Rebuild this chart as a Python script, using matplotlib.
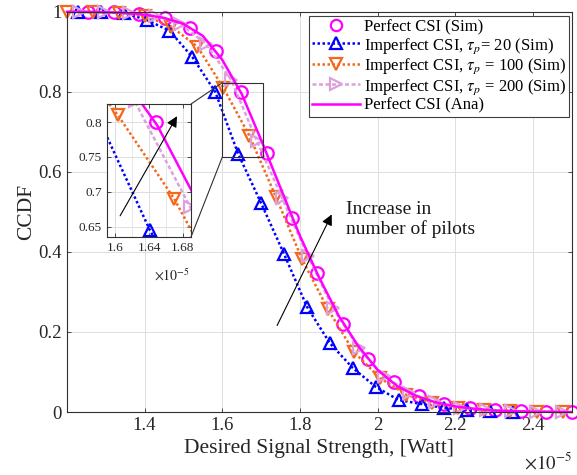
import matplotlib
matplotlib.use("Agg")
import numpy as np
import matplotlib.pyplot as plt
from matplotlib.patches import Rectangle, ConnectionPatch

plt.rcParams['font.family'] = ['Liberation Serif', 'DejaVu Serif']
plt.rcParams['mathtext.fontset'] = 'stix'

# desired signal strength in units of 1e-5 W
x_perfect_sim = [1.255, 1.321, 1.386, 1.452, 1.517, 1.583, 1.648, 1.714, 1.779, 1.845,
                 1.910, 1.976, 2.041, 2.107, 2.172, 2.238, 2.303, 2.369, 2.434, 2.500]
y_perfect_sim = [1.0, 1.0, 0.995, 0.985, 0.96, 0.903, 0.80, 0.647, 0.485, 0.347,
                 0.22, 0.132, 0.075, 0.04, 0.02, 0.01, 0.005, 0.002, 0.001, 0.0]

x_tau20 = [1.228, 1.287, 1.346, 1.405, 1.464, 1.523, 1.582, 1.641, 1.700, 1.759,
           1.818, 1.877, 1.936, 1.995, 2.054, 2.113, 2.172, 2.231, 2.290, 2.349]
y_tau20 = [1.0, 1.0, 0.998, 0.98, 0.953, 0.887, 0.80, 0.645, 0.522, 0.395,
           0.263, 0.172, 0.11, 0.063, 0.03, 0.02, 0.01, 0.006, 0.003, 0.001]

x_tau100 = [1.200, 1.267, 1.334, 1.402, 1.469, 1.536, 1.603, 1.670, 1.738, 1.805,
            1.872, 1.939, 2.006, 2.074, 2.141, 2.208, 2.275, 2.342, 2.410, 2.477]
y_tau100 = [1.0, 1.0, 0.998, 0.99, 0.963, 0.913, 0.81, 0.69, 0.538, 0.383,
            0.257, 0.15, 0.085, 0.043, 0.022, 0.01, 0.004, 0.002, 0.001, 0.0]

x_tau200 = [1.230, 1.296, 1.361, 1.427, 1.492, 1.558, 1.623, 1.689, 1.754, 1.820,
            1.885, 1.951, 2.016, 2.082, 2.147, 2.213, 2.278, 2.344, 2.409, 2.475]
y_tau200 = [1.0, 0.999, 0.997, 0.99, 0.97, 0.92, 0.83, 0.678, 0.535, 0.39,
            0.26, 0.16, 0.09, 0.048, 0.024, 0.011, 0.005, 0.002, 0.001, 0.0]

x_perfect_ana = [1.20, 1.25, 1.30, 1.35, 1.40, 1.45, 1.50, 1.55, 1.60, 1.65, 1.70, 1.75, 1.80,
                 1.85, 1.90, 1.95, 2.00, 2.05, 2.10, 2.15, 2.20, 2.25, 2.30, 2.35, 2.40, 2.45, 2.50]
y_perfect_ana = [1.0, 1.0, 0.999, 0.997, 0.993, 0.985, 0.97, 0.94, 0.88, 0.795, 0.68, 0.56, 0.44,
                 0.335, 0.24, 0.165, 0.105, 0.065, 0.04, 0.024, 0.014, 0.008, 0.004, 0.002, 0.001,
                 0.0005, 0.0]

labels = ['Perfect CSI (Sim)',
          r'Imperfect CSI, $\tau_p$= 20 (Sim)',
          r'Imperfect CSI, $\tau_p$ = 100 (Sim)',
          r'Imperfect CSI, $\tau_p$ = 200 (Sim)',
          'Perfect CSI (Ana)']

magenta = '#ff00ff'
blue = '#0000ff'
orange = '#f5681c'
plum = '#dca0dc'

zoom_box = (1.60, 1.705, 0.637, 0.823)
inset_xlim = (1.59, 1.69)
inset_ylim = (0.635, 0.826)

fig = plt.figure(figsize=(5.77, 4.75), dpi=100)
ax = fig.add_axes([0.116, 0.1326, 0.875, 0.8424])


def draw_series(a, clip=True):
    a.plot(x_perfect_sim, y_perfect_sim, linestyle='none', marker='o', ms=9, mfc='none',
           mec=magenta, mew=1.6, label=labels[0], clip_on=clip)
    a.plot(x_tau20, y_tau20, linestyle=(0, (1, 1)), lw=1.8, color=blue, marker='^', ms=9,
           mfc='none', mew=1.6, label=labels[1], clip_on=clip)
    a.plot(x_tau100, y_tau100, linestyle=(0, (1, 1)), lw=1.8, color=orange, marker='v', ms=9,
           mfc='none', mew=1.6, label=labels[2], clip_on=clip)
    a.plot(x_tau200, y_tau200, linestyle=(0, (1.6, 1)), lw=1.8, color=plum, marker='>', ms=9,
           mfc='none', mew=1.6, label=labels[3], clip_on=clip)
    a.plot(x_perfect_ana, y_perfect_ana, '-', lw=1.8, color=magenta, label=labels[4], clip_on=clip)


def style_axes(a, size):
    for s in a.spines.values():
        s.set_color('#303030')
        s.set_linewidth(0.8)
    a.tick_params(direction='in', length=3, width=0.6, labelsize=size, colors='#303030',
                  labelcolor='#262626', top=True, right=True)
    a.grid(True, color='#dedede', lw=0.7)
    a.set_axisbelow(True)


draw_series(ax, clip=False)
ax.set_xlim(1.2, 2.5)
ax.set_ylim(0, 1)
ax.set_xticks([1.4, 1.6, 1.8, 2.0, 2.2, 2.4])
ax.set_xticklabels(['1.4', '1.6', '1.8', '2', '2.2', '2.4'])
ax.set_yticks([0, 0.2, 0.4, 0.6, 0.8, 1])
ax.set_yticklabels(['0', '0.2', '0.4', '0.6', '0.8', '1'])
style_axes(ax, 13.5)
ax.set_xlabel('Desired Signal Strength, [Watt]', fontsize=15.5, color='#262626', labelpad=4)
ax.set_ylabel('CCDF', fontsize=15.5, color='#262626', labelpad=2)
ax.text(1.0, -0.125, r'$\times 10^{-5}$', transform=ax.transAxes, ha='right', va='center',
        fontsize=13.5, color='#262626')

leg = ax.legend(loc='upper right', bbox_to_anchor=(0.995, 0.99), fontsize=12, frameon=True,
                fancybox=False, framealpha=1, edgecolor='#404040', handlelength=2.9,
                handletextpad=0.2, labelspacing=0.05, borderpad=0.2, borderaxespad=0.0,
                markerscale=0.9)
leg.get_frame().set_linewidth(0.8)

ax.annotate('', xy=(1.885, 0.50), xytext=(1.738, 0.21),
            arrowprops=dict(arrowstyle='-|>', color='black', lw=0.8, mutation_scale=16))
ax.text(1.918, 0.48, 'Increase in\nnumber of pilots', fontsize=14, ha='left', va='center',
        linespacing=1.15, color='#1a1a1a')

# zoom box and connectors
bx0, bx1, by0, by1 = zoom_box
ax.add_patch(Rectangle((bx0, by0), bx1 - bx0, by1 - by0, fill=False, ec='#303030', lw=0.8,
                       zorder=5))

axin = fig.add_axes([0.1854, 0.501, 0.1456, 0.28])
draw_series(axin)
axin.set_xlim(*inset_xlim)
axin.set_ylim(*inset_ylim)
axin.set_xticks([1.6, 1.64, 1.68])
axin.set_xticklabels(['1.6', '1.64', '1.68'])
axin.set_xticks([1.62, 1.66], minor=True)
axin.set_yticks([0.65, 0.7, 0.75, 0.8])
axin.set_yticklabels(['0.65', '0.7', '0.75', '0.8'])
style_axes(axin, 9.5)
axin.tick_params(which='minor', length=0)
axin.grid(True, which='minor', color='#e4e4e4', lw=0.6)
axin.text(0.99, -0.29, r'$\times 10^{-5}$', transform=axin.transAxes, ha='right', va='center',
          fontsize=10, color='#262626')
axin.annotate('', xy=(1.675, 0.812), xytext=(1.604, 0.662),
              arrowprops=dict(arrowstyle='-|>', color='black', lw=0.8, mutation_scale=16))

for ya, yb in [(1.0, by1), (0.0, by0)]:
    con = ConnectionPatch(xyA=(1.0, ya), coordsA=axin.transAxes, xyB=(bx0, yb),
                          coordsB=ax.transData, color='#303030', lw=0.8)
    fig.add_artist(con)

fig.savefig('out.png', dpi=100)
